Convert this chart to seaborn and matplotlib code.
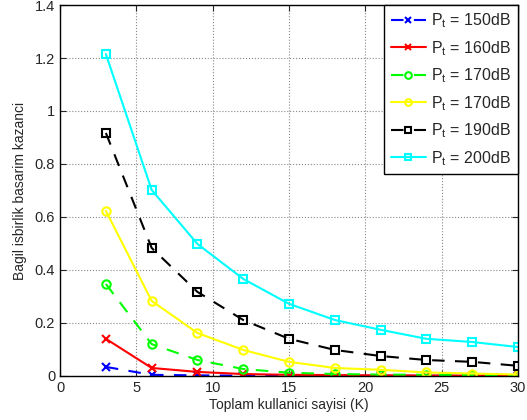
import matplotlib
matplotlib.use("Agg")
import matplotlib.pyplot as plt
import seaborn as sns
import pandas as pd

K = [3, 6, 9, 12, 15, 18, 21, 24, 27, 30]
p150 = [0.034, 0.004, 0.002, 0.001, 0.001, 0.0005, 0.0004, 0.0003, 0.0002, 0.0002]
p160 = [0.140, 0.030, 0.015, 0.007, 0.004, 0.003, 0.002, 0.0015, 0.001, 0.001]
p170a = [0.347, 0.120, 0.060, 0.026, 0.012, 0.007, 0.005, 0.004, 0.003, 0.002]
p170b = [0.623, 0.283, 0.162, 0.098, 0.053, 0.030, 0.023, 0.013, 0.009, 0.005]
p190 = [0.917, 0.483, 0.317, 0.211, 0.140, 0.098, 0.075, 0.060, 0.053, 0.038]
p200 = [1.215, 0.702, 0.498, 0.366, 0.272, 0.211, 0.174, 0.140, 0.128, 0.109]
labels = [r"P$_\mathregular{t}$ = 150dB", r"P$_\mathregular{t}$ = 160dB",
          r"P$_\mathregular{t}$ = 170dB", r"P$_\mathregular{t}$ = 170dB ",
          r"P$_\mathregular{t}$ = 190dB", r"P$_\mathregular{t}$ = 200dB"]
series = [p150, p160, p170a, p170b, p190, p200]

sns.set_style("white")
plt.rcParams['font.family'] = ['Liberation Sans', 'DejaVu Sans']
plt.rcParams['mathtext.fontset'] = 'custom'
plt.rcParams['mathtext.rm'] = 'Liberation Sans'

colors = ['#0000ff', '#ff0000', '#00ff00', '#ffff00', '#000000', '#00ffff']
styles = ['--', '-', '--', '-', '--', '-']
markers = ['x', 'x', 'o', 'o', 's', 's']

fig = plt.figure(figsize=(5.27, 4.2), dpi=100)
ax = fig.add_axes([0.114, 0.105, 0.869, 0.883])

for lab, vals, c, ls, m in zip(labels, series, colors, styles, markers):
    df = pd.DataFrame({'K': K, 'v': vals})
    sns.lineplot(data=df, x='K', y='v', ax=ax, color=c, marker=m,
                 markersize=6, markerfacecolor='none', markeredgecolor=c,
                 markeredgewidth=1.5, linewidth=1.5, label=lab)
    ln = ax.lines[-1]
    ln.set_linestyle(ls)
    if ls == '--':
        ln.set_dashes([6, 5])

ax.set_xlim(0, 30)
ax.set_ylim(0, 1.4)
ax.set_xticks(range(0, 31, 5))
ax.set_yticks([0, 0.2, 0.4, 0.6, 0.8, 1.0, 1.2, 1.4])
ax.set_yticklabels(['0', '0.2', '0.4', '0.6', '0.8', '1', '1.2', '1.4'])
ax.grid(True, linestyle=':', color='#888888', linewidth=0.8)
ax.tick_params(direction='in', length=4, labelsize=10.5, top=True, right=True,
               bottom=True, left=True)
for s in ax.spines.values():
    s.set_color('black')
    s.set_linewidth(1.0)
ax.set_xlabel('Toplam kullanici sayisi (K)', fontsize=10, labelpad=2)
ax.set_ylabel('Bagil isbirlik basarim kazanci', fontsize=10, labelpad=6)

leg = ax.legend(loc='upper right', fontsize=11.5, frameon=True, fancybox=False,
                edgecolor='black', framealpha=1, borderaxespad=0.0,
                handlelength=2.2, labelspacing=0.55, handletextpad=0.3,
                borderpad=0.4, markerscale=0.8)
leg.get_frame().set_linewidth(1.0)

fig.savefig('out.png', dpi=100)
